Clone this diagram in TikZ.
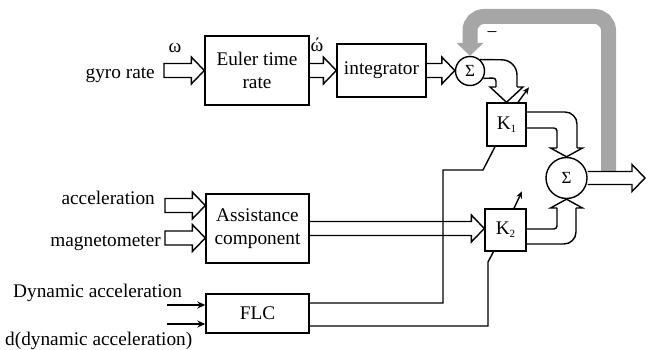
\documentclass[tikz,border=0pt]{standalone}
\usepackage{fontspec}
\setmainfont{Liberation Serif}
\usetikzlibrary{calc,arrows.meta}
\definecolor{fbgray}{RGB}{166,166,166}
% #1 half band width, #2 start, #3 tip (only x used), #4 path suffix
\newcommand\HArrow[4][7]{%
  \draw[conn] let \p1=(#2), \p2=(#3) in
    (\x1,{\y1+#1pt}) -- ({\x2-13pt},{\y1+#1pt}) -- ({\x2-13pt},{\y1+13.5pt})
    -- (\x2,\y1) -- ({\x2-13pt},{\y1-13.5pt}) -- ({\x2-13pt},{\y1-#1pt})
    -- (\x1,{\y1-#1pt}) #4;}
\begin{document}
\begin{tikzpicture}[x=1pt,y=-1pt,
  txt/.style={font=\fontsize{19.3}{23}\selectfont, inner sep=0pt},
  box/.style={txt, draw, line width=1.4pt, align=center},
  sumnode/.style={draw, circle, line width=1.4pt, inner sep=0pt, font=\fontsize{17}{17}\selectfont},
  conn/.style={line width=1.4pt, line join=miter},
  sig/.style={line width=1.4pt, -{Stealth[length=8pt,width=7pt]}},
  fb/.style={line width=15pt, draw=fbgray},
]
\useasboundingbox (0,0) rectangle (646,350);

% blocks
\node[box, minimum width=104pt, minimum height=69pt] (euler) at (257,70.5) {Euler time\\rate};
\node[box, minimum width=89pt, minimum height=53pt] (integ) at (381.5,70.5) {integrator};
\node[sumnode, minimum size=29pt] (s1) at (470,71) {Σ};
\node[box, minimum width=39pt, minimum height=43pt] (k1) at (506.5,124.5) {K\raisebox{-3pt}{\fontsize{11}{11}\selectfont 1}};
\node[sumnode, minimum size=41pt] (s2) at (566.5,178) {Σ};
\node[box, minimum width=103pt, minimum height=69pt] (assist) at (257.5,228.5) {Assistance\\component};
\node[box, minimum width=41pt, minimum height=42pt] (k2) at (505.5,230) {K\raisebox{-3pt}{\fontsize{11}{11}\selectfont 2}};
\node[box, minimum width=103pt, minimum height=39pt] (flc) at (257.5,313.5) {FLC};

% labels
\node[txt, anchor=base east] (tgyro) at (155,79) {gyro rate};
\node[txt, anchor=base] (tomega) at (175,53) {ω};
\node[txt, anchor=base] (tomegad) at (317,52) {ώ};
\node[txt, anchor=base east] (tacc) at (155,205) {acceleration};
\node[txt, anchor=base east] (tmag) at (161,246.5) {magnetometer};
\node[txt, anchor=base west] (tdyn) at (13,298) {Dynamic acceleration};
\node[txt, anchor=base west] (tddyn) at (5,345) {d(dynamic acceleration)};
\node[txt] (tminus) at (492,35) {−};

% gray feedback
\draw[fb, rounded corners=14] (608.5,172) -- (608.5,16.5) -- (470,16.5) -- (470,44);
\fill[fbgray] (456.5,43) -- (483.5,43) -- (s1.north) -- cycle;

% straight hollow arrows
\coordinate (gyroin) at (164,70.5);
\coordinate (accin) at (165,205.5);
\coordinate (magin) at (165,238);
\coordinate (out) at (645,178);
\HArrow{gyroin}{euler.west}{-- cycle}
\HArrow{accin}{assist.west}{-- cycle}
\HArrow{magin}{assist.west}{-- cycle}
\HArrow{euler.east}{integ.west}{}
\HArrow{integ.east}{s1.west}{}
\HArrow{assist.east}{k2.west}{}
\HArrow[6.5]{s2.east}{out}{}

% sigma1 -> K1
\draw[conn, rounded corners=15] (s1.49) -- (517,60) -- (517,87);
\draw[conn] (517,87) -- (523,87) -- (k1.north) -- (490,87) -- (496,87);
\draw[conn, rounded corners=3] (496,87) -- (496,78) -- (s1.-29);

% K1 -> sigma2
\draw[conn, rounded corners=12] ($(k1.east)+(0,-12.5)$) -- (577,112) -- (577,148);
\draw[conn] (577,148) -- (582.5,148) -- (s2.north) -- (550.5,148) -- (557,148);
\draw[conn, rounded corners=3] (557,148) -- (557,128) -- ($(k1.east)+(0,3.5)$);

% K2 -> sigma2
\draw[conn, rounded corners=3] ($(k2.east)+(0,-1)$) -- (557,229) -- (557,208);
\draw[conn] (557,208) -- (550.5,208) -- (s2.south) -- (582.5,208) -- (576,208);
\draw[conn, rounded corners=12] (576,208) -- (576,244) -- ($(k2.east)+(0,14)$);

% FLC outputs
\draw[conn] ($(flc.east)+(0,-10.5)$) -- (443,303) -- (443,170) -- (483,170) -- ($(k1.south)+(-11.5,0)$);
\draw[conn] ($(flc.east)+(0,12.5)$) -- (488,326) -- (488,262) -- ($(k2.south)+(-12,0)$);

% FLC inputs
\coordinate (din1) at (167,305);
\coordinate (din2) at (167,324);
\draw[sig] (din1) -- (din1 -| flc.west);
\draw[sig] (din2) -- (din2 -| flc.west);

% adjustable gain arrows
\draw[line width=1.4pt, -{Stealth[length=7pt,width=6pt]}] ($(k1.north)+(11.5,0)$) -- ++(11,-15);
\draw[line width=1.4pt, -{Stealth[length=7pt,width=6pt]}] ($(k2.north)+(8.5,0)$) -- ++(8,-17);
\end{tikzpicture}
\end{document}
